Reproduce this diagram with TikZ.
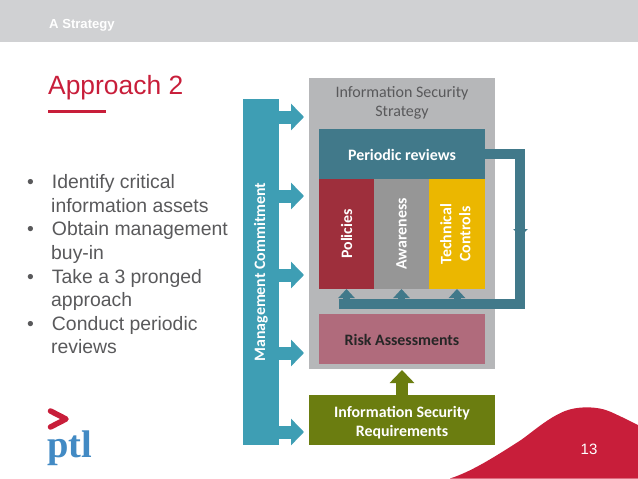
\documentclass[tikz,border=0pt]{standalone}
\usepackage{fontspec}
\usepackage{tikz}
\usetikzlibrary{arrows.meta}
\setmainfont{Liberation Sans}
\newfontfamily\calibrifont{Carlito}
\newfontfamily\logofont{Liberation Serif}
\definecolor{headergray}{RGB}{208,209,211}
\definecolor{ptlred}{RGB}{200,30,58}
\definecolor{bodygray}{RGB}{89,89,91}
\definecolor{boxgray}{RGB}{182,183,185}
\definecolor{tealbar}{RGB}{62,158,180}
\definecolor{tealdark}{RGB}{65,121,138}
\definecolor{policyred}{RGB}{158,47,60}
\definecolor{awaregray}{RGB}{150,150,150}
\definecolor{techyellow}{RGB}{235,183,0}
\definecolor{riskrose}{RGB}{176,107,124}
\definecolor{reqgreen}{RGB}{107,125,16}
\definecolor{logoblue}{RGB}{66,138,196}
\tikzset{
  block/.style={inner sep=0pt,outer sep=0pt,align=center,font=\calibrifont\bfseries\fontsize{15.9}{19}\selectfont,text=white},
  pushbar/.style={tealbar,line width=13pt,-{Triangle[width=26pt,length=13pt]}},
  riser/.style={tealdark,line width=7pt,-{Triangle[width=16pt,length=9pt]}},
}
\begin{document}
\begin{tikzpicture}[x=1pt,y=-1pt]
  \useasboundingbox (0,0) rectangle (638,479);
  % slide frame
  \fill[headergray] (0,0) rectangle (638,42);
  \node[font=\bfseries\fontsize{13.1}{15}\selectfont,text=white,anchor=west,inner sep=0pt] (section) at (49,25) {A Strategy};
  \node[font=\fontsize{26.4}{30}\selectfont,text=ptlred,anchor=west,inner sep=0pt] (title) at (48,88) {Approach 2};
  \fill[ptlred] (48,109.5) rectangle (106,113);
  \node[font=\fontsize{19.4}{23.6}\selectfont,text=bodygray,anchor=north west,inner sep=0pt,align=left] (points) at (27,174.5) {%
    \textbullet\hspace{18pt}Identify critical\\
    \hspace{24pt}information assets\\
    \textbullet\hspace{18pt}Obtain management\\
    \hspace{24pt}buy-in\\
    \textbullet\hspace{18pt}Take a 3 pronged\\
    \hspace{24pt}approach\\
    \textbullet\hspace{18pt}Conduct periodic\\
    \hspace{24pt}reviews};
  % logo
  \draw[ptlred,line width=5.5pt,line cap=round,line join=round] (50.5,411) -- (66,419) -- (50.5,427);
  \node[font=\logofont\bfseries\fontsize{38.5}{38}\selectfont,text=logoblue,inner sep=0pt] (logo) at (69.5,448) {ptl};
  % corner shape
  \fill[ptlred] (450,478.5) .. controls (470,472) and (490,460) .. (521,440)
    .. controls (535,430) and (548,418) .. (565,411)
    .. controls (578,406) and (598,406) .. (611,412)
    .. controls (622,417) and (630,421) .. (638,425) -- (638,478.5) -- cycle;
  \node[font=\fontsize{15}{18}\selectfont,text=white,inner sep=0pt] (pageno) at (589,449) {13};
  % boxes
  \fill[boxgray] (309,78) rectangle (495,369);
  \node[font=\calibrifont\fontsize{16}{19}\selectfont,text=bodygray,align=center,inner sep=0pt] (strategy) at (402,102.5) {Information Security\\Strategy};
  \node[block,fill=tealdark,minimum width=166pt,minimum height=50pt] (periodic) at (402,154) {\rule{0pt}{14pt}Periodic reviews};
  \node[block,fill=policyred,minimum width=55pt,minimum height=110pt] (policies) at (346.5,234) {\rotatebox{90}{Policies}};
  \node[block,fill=awaregray,minimum width=55pt,minimum height=110pt] (awareness) at (401.5,234) {\rotatebox{90}{Awareness}};
  \node[block,fill=techyellow,minimum width=56pt,minimum height=110pt] (technical) at (457,234) {\rotatebox{90}{\begin{tabular}{@{}c@{}}Technical\\Controls\end{tabular}}};
  \node[block,fill=riskrose,text=black!85,minimum width=166pt,minimum height=50pt] (risk) at (402,339) {\rule{0pt}{14pt}Risk Assessments};
  \node[block,fill=reqgreen,minimum width=186pt,minimum height=50pt] (requirements) at (402,420) {\rule{0pt}{16pt}Information Security\\Requirements};
  \node[block,fill=tealbar,minimum width=36pt,minimum height=346pt] (commitment) at (261,272) {\rotatebox{90}{Management Commitment}};
  % arrows out of the bar
  \coordinate (push1) at (304,117);
  \coordinate (push2) at (304,196);
  \coordinate (push3) at (304,275);
  \coordinate (push4) at (304,353);
  \coordinate (push5) at (304,432);
  \foreach \i in {1,...,5}
    \draw[pushbar] (commitment.east |- push\i) -- (push\i);
  % feedback loop
  \coordinate (loopa) at (520,154);
  \coordinate (loopb) at (520,304);
  \coordinate (loopc) at (339,304);
  \draw[tealdark,line width=10pt] (periodic.east |- loopa) -- (loopa) -- (loopb) -- (loopc);
  \fill[tealdark] (513,229) -- (528,229) -- (520.5,236) -- cycle;
  \foreach \n in {policies,awareness,technical}
    \draw[riser] (\n.south |- loopc) -- (\n.south);
  \draw[reqgreen,line width=12pt,-{Triangle[width=24pt,length=13pt]}] (requirements.north) -- (402,370);
\end{tikzpicture}
\end{document}
